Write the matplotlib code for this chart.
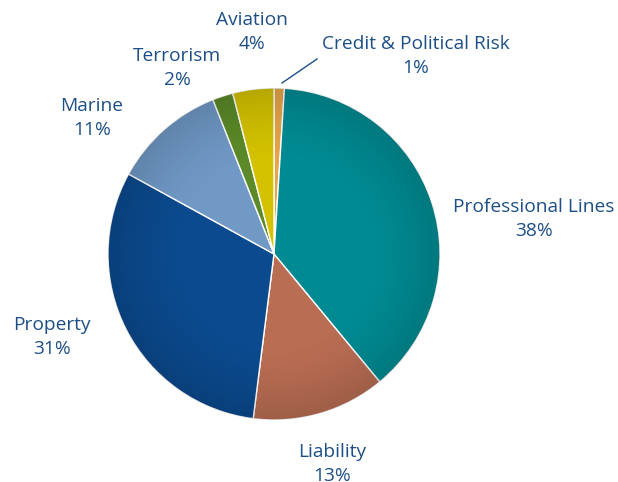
import matplotlib.pyplot as plt
import numpy as np
from matplotlib.patches import Circle

# 数据：顺时针从12点开始
categories = ["Credit & Political Risk", "Professional Lines", "Liability", "Property",
              "Marine", "Terrorism", "Aviation"]
shares = [1, 38, 13, 31, 11, 2, 4]
colors = ["#E6A548", "#008B93", "#B96D53", "#0B4A8E", "#7099C6", "#5C8A28", "#D4C200"]

label_color = "#1D4F86"
plt.rcParams['font.family'] = ['Open Sans', 'DejaVu Sans']

fig = plt.figure(figsize=(6.18, 4.82), dpi=100)
ax = fig.add_axes([0, 0, 1, 1])

cx, cy, r = 274, 482 - 254, 166
wedges, _ = ax.pie(shares, colors=colors, startangle=90, counterclock=False,
                   center=(cx, cy), radius=r,
                   wedgeprops=dict(edgecolor='white', linewidth=1.0))

# 边缘略暗的径向阴影
n = 400
xx, yy = np.meshgrid(np.linspace(-1, 1, n), np.linspace(-1, 1, n))
rr = np.sqrt(xx ** 2 + yy ** 2)
shade = np.zeros((n, n, 4))
shade[..., 3] = np.clip((rr - 0.55) / 0.45, 0, 1) ** 1.5 * 0.14
im = ax.imshow(shade, extent=(cx - r, cx + r, cy - r, cy + r), origin='lower', zorder=3)
im.set_clip_path(Circle((cx, cy), r, transform=ax.transData))

ax.set_aspect('equal')
ax.set_xlim(0, 618)
ax.set_ylim(0, 482)
ax.axis('off')

# 标签（像素位置）
label_pos = {
    "Credit & Political Risk": (416, 482 - 56),
    "Professional Lines": (534, 482 - 219),
    "Liability": (332, 482 - 464),
    "Property": (52, 482 - 337),
    "Marine": (92, 482 - 118),
    "Terrorism": (177, 482 - 68),
    "Aviation": (252, 482 - 32),
}
for name, val in zip(categories, shares):
    x, y = label_pos[name]
    ax.text(x, y, f"{name}\n{val}%", ha='center', va='center', fontsize=13.8,
            color=label_color, linespacing=1.45)

# Credit 引线
ax.plot([282, 317], [482 - 83, 482 - 59], color=label_color, linewidth=1.0)

fig.savefig("out.png", dpi=100)
